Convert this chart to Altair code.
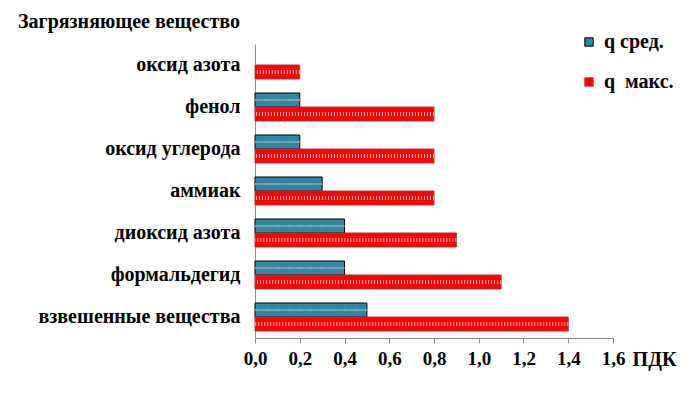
import altair as alt
import pandas as pd

categories = ["оксид азота", "фенол", "оксид углерода", "аммиак",
              "диоксид азота", "формальдегид", "взвешенные вещества"]
q_avg = [0.0, 0.2, 0.2, 0.3, 0.4, 0.4, 0.5]
q_max = [0.2, 0.8, 0.8, 0.8, 0.9, 1.1, 1.4]
series_names = ["q сред.", "q\u00a0\u00a0макс."]
x_ticks = [0, 0.2, 0.4, 0.6, 0.8, 1.0, 1.2, 1.4, 1.6]

rows = []
for c, a, m in zip(categories, q_avg, q_max):
    rows.append({"cat": c, "series": series_names[0], "value": a})
    rows.append({"cat": c, "series": series_names[1], "value": m})
df = pd.DataFrame(rows)

FONT = "Times New Roman, Liberation Serif, serif"

xs = alt.Scale(domain=[0, 1.6], nice=False)
ys = alt.Scale(domain=categories, paddingInner=1/3, paddingOuter=1/6)
yo = alt.Scale(domain=series_names, padding=0)

x_enc = alt.X("value:Q", scale=xs,
              axis=alt.Axis(values=x_ticks, labelExpr="replace(format(datum.value, '.1f'), '.', ',')",
                            title="ПДК", titleX=399, titleY=21, titleAlign="center",
                            titleBaseline="middle", titleFont=FONT, titleFontSize=20,
                            titleFontWeight="bold", titleColor="black",
                            labelFont=FONT, labelFontSize=19, labelFontWeight="bold",
                            labelColor="black", labelPadding=6, tickSize=5,
                            tickColor="#8c8c8c", domainColor="#8c8c8c", grid=False,
                            labelFlush=False))
y_enc = alt.Y("cat:N", scale=ys,
              axis=alt.Axis(title=None, ticks=False, labelFont=FONT, labelFontSize=20,
                            labelFontWeight="bold", labelColor="black", labelPadding=15,
                            domainColor="#8c8c8c", labelLimit=300))
yoff = alt.YOffset("series:N", scale=yo)

base = alt.Chart(df).transform_filter("datum.value > 0")

bars = base.mark_bar(strokeWidth=1).encode(
    x=x_enc, x2=alt.datum(0), y=y_enc, yOffset=yoff,
    fill=alt.Color("series:N", scale=alt.Scale(domain=series_names, range=["#31859C", "#FF0000"]),
                   legend=alt.Legend(title=None, orient="none", legendX=324, legendY=-12,
                                     symbolType="square", symbolSize=70,
                                     symbolStrokeColor="black", symbolStrokeWidth=1,
                                     labelFont=FONT, labelFontSize=20, labelFontWeight="bold",
                                     labelColor="black", rowPadding=20, labelOffset=5)),
    stroke=alt.Stroke("series:N", scale=alt.Scale(domain=series_names, range=["#000000", "#A33A3A"]),
                      legend=None),
)

def pattern(series, color, dash, width, off, dashoffset):
    return base.transform_filter(alt.datum.series == series).mark_rule(
        color=color, strokeDash=dash, strokeWidth=width, yOffset=off, strokeDashOffset=dashoffset
    ).encode(x=alt.X("value:Q", scale=xs), x2=alt.datum(0), y=alt.Y("cat:N", scale=ys), yOffset=yoff)

layers = [
    bars,
    pattern(series_names[0], "#9CC3E5", [6, 5], 1, -3, 0),
    pattern(series_names[0], "#9CC3E5", [6, 5], 1, 3, 5),
    pattern(series_names[1], "#E8B4B4", [1, 5], 4, -3, 0),
    pattern(series_names[1], "#E8B4B4", [1, 5], 4, 3, 3),
]

chart = alt.layer(*layers).properties(
    width=358, height=294,
    autosize=alt.AutoSizeParams(type="none"),
    padding={"left": 247, "top": 36, "right": 65, "bottom": 47},
    title=alt.TitleParams("Загрязняющее вещество", anchor="start", frame="group", dx=-237,
                          offset=0, font=FONT, fontSize=20, fontWeight="bold", color="black"),
).configure_view(stroke=None)

chart.save("out.html", embed_options={"renderer": "svg", "actions": False})
